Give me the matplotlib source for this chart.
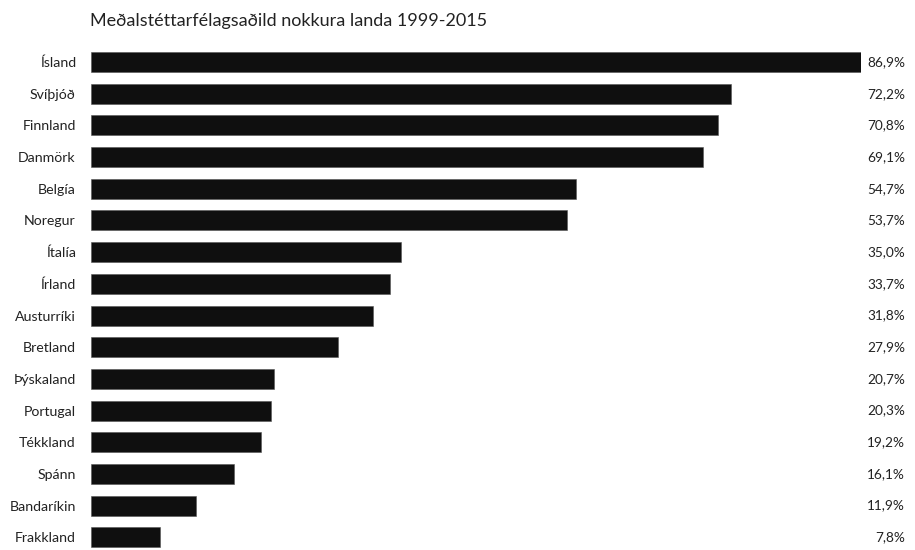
import matplotlib
matplotlib.use("Agg")
import matplotlib.pyplot as plt
import matplotlib.transforms as mtransforms

plt.rcParams['font.family'] = ['Lato', 'DejaVu Sans']

# data, top to bottom
lond = ["Ísland", "Svíþjóð", "Finnland", "Danmörk", "Belgía", "Noregur", "Ítalía",
        "Írland", "Austurríki", "Bretland", "Þýskaland", "Portugal", "Tékkland",
        "Spánn", "Bandaríkin", "Frakkland"]
gildi = [86.9, 72.2, 70.8, 69.1, 54.7, 53.7, 35.0, 33.7, 31.8, 27.9, 20.7, 20.3,
         19.2, 16.1, 11.9, 7.8]
merki = ["86,9%", "72,2%", "70,8%", "69,1%", "54,7%", "53,7%", "35,0%", "33,7%",
         "31,8%", "27,9%", "20,7%", "20,3%", "19,2%", "16,1%", "11,9%", "7,8%"]

W, H = 915, 550
fig = plt.figure(figsize=(W / 100, H / 100), dpi=100)
# axes from pixel x=91..861, y=46..550
ax = fig.add_axes([91 / W, 0.0, (861 - 91) / W, (550 - 46.2) / H])

n = len(lond)
ypos = [n - 1 - i for i in range(n)]
ax.barh(ypos, gildi, height=0.63, color="#0f0f0f", edgecolor="#555555", linewidth=0.4)

ax.set_xlim(0, 86.9)
ax.set_ylim(-0.4, n - 0.5)
ax.set_yticks(ypos)
ax.set_yticklabels(lond, fontsize=10.2, color="#222222")
ax.tick_params(axis='y', length=0, pad=11)
ax.set_xticks([])
for s in ax.spines.values():
    s.set_visible(False)

# value labels right-aligned near right edge
trans = mtransforms.blended_transform_factory(fig.transFigure, ax.transData)
for y, m in zip(ypos, merki):
    ax.text(905 / W, y, m, transform=trans, ha="right", va="center",
            fontsize=9.8, color="#222222")

fig.text(90 / W, 1 - 21 / H, "Meðalstéttarfélagsaðild nokkura landa 1999-2015",
         ha="left", va="center", fontsize=13, color="#222222")

fig.savefig("out.png", dpi=100)
